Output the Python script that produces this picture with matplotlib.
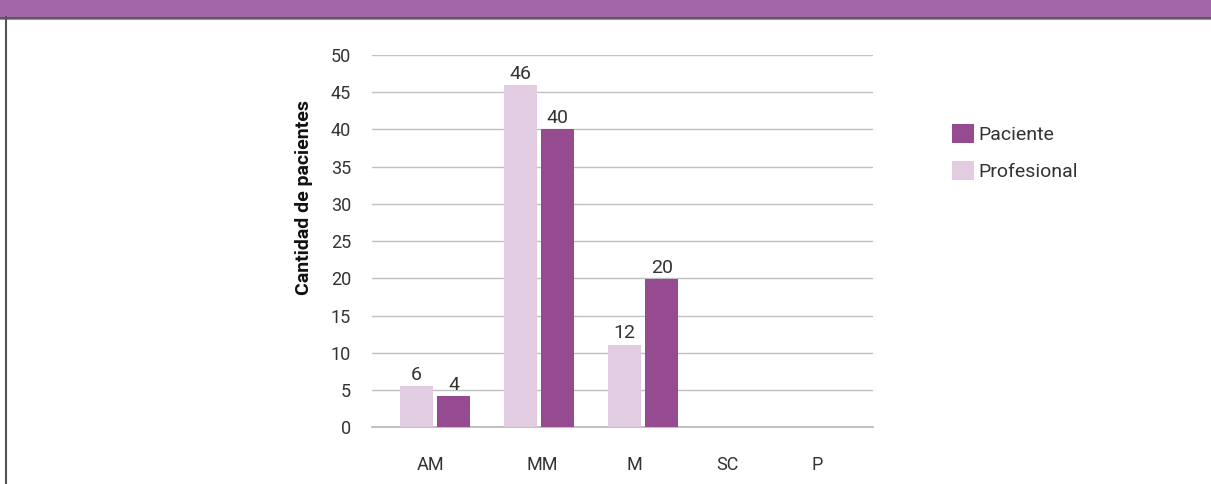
# Balkendiagramm: Paciente vs. Profesional
import numpy as np
import matplotlib.pyplot as plt
from matplotlib.patches import Rectangle
from matplotlib.lines import Line2D

plt.rcParams['font.family'] = ['Roboto', 'DejaVu Sans']

# Daten
categorias = ['AM', 'MM', 'M', 'SC', 'P']
profesional = [5.5, 45.9, 11.1, 0, 0]      # Balkenhöhen wie im Bild
paciente = [4.2, 40.0, 19.9, 0, 0]
etiquetas_profesional = [6, 46, 12, None, None]
etiquetas_paciente = [4, 40, 20, None, None]
y_ticks = [0, 5, 10, 15, 20, 25, 30, 35, 40, 45, 50]

c_paciente = '#964b91'
c_profesional = '#e2cce2'
c_texto = '#333333'

fig = plt.figure(figsize=(12.11, 4.84), dpi=100)

# Kopfzeile und Rahmen
fig.patches.append(Rectangle((0, 1 - 17 / 484), 1, 17 / 484, transform=fig.transFigure,
                             facecolor='#a366a6', edgecolor='none', zorder=0))
fig.lines.append(Line2D([0, 1], [1 - 17.5 / 484] * 2, transform=fig.transFigure,
                        color='#3a3a3a', lw=1.2))
fig.lines.append(Line2D([0, 1], [1 - 19 / 484] * 2, transform=fig.transFigure,
                        color='#999999', lw=0.8))
fig.lines.append(Line2D([5.5 / 1211] * 2, [0, 1 - 17 / 484], transform=fig.transFigure,
                        color='#555555', lw=1.5))

ax = fig.add_axes([372 / 1211, 1 - 427.3 / 484, 501 / 1211, 372.5 / 484])

x = np.arange(len(categorias))
ancho = 0.317
d = 0.18
b_prof = ax.bar(x - d, profesional, ancho, color=c_profesional, label='Profesional', zorder=3)
b_pac = ax.bar(x + d, paciente, ancho, color=c_paciente, label='Paciente', zorder=3)

for barras, etiquetas in [(b_prof, etiquetas_profesional), (b_pac, etiquetas_paciente)]:
    for rect, et in zip(barras, etiquetas):
        if et is None:
            continue
        ax.text(rect.get_x() + rect.get_width() / 2, rect.get_height() + 0.3, str(et),
                ha='center', va='bottom', fontsize=14, color=c_texto)

ax.set_ylim(0, 50)
ax.set_xlim(-0.606, 4.21)
ax.set_yticks(y_ticks)
# Beschriftungen stehen im Original nicht genau unter den Gruppen
ax.set_xticks([-0.048, 1.029, 1.913, 2.808, 3.673])
ax.set_xticklabels(categorias)
ax.yaxis.grid(True, color='#c0c0c0', lw=1, zorder=0)
ax.axhline(0, color='#b5b5b5', lw=1.2, zorder=1, clip_on=False)
ax.set_axisbelow(True)
for s in ax.spines.values():
    s.set_visible(False)
ax.tick_params(axis='both', length=0, labelsize=13, colors=c_texto)
ax.tick_params(axis='y', pad=15)
ax.tick_params(axis='x', pad=21)
ax.set_ylabel('Cantidad de pacientes', fontsize=14, fontweight='bold', color='#111111')
ax.yaxis.set_label_coords(-0.118, 0.618)

handles = [b_pac, b_prof]
ax.legend(handles, ['Paciente', 'Profesional'], loc='upper left',
          bbox_to_anchor=(952 / 1211, 1 - 124 / 484), bbox_transform=fig.transFigure,
          frameon=False, fontsize=14, handlelength=1.12, handleheight=1.12,
          handletextpad=0.25, labelspacing=0.88, borderpad=0, borderaxespad=0,
          labelcolor=c_texto)

plt.savefig('out.png', dpi=100)
